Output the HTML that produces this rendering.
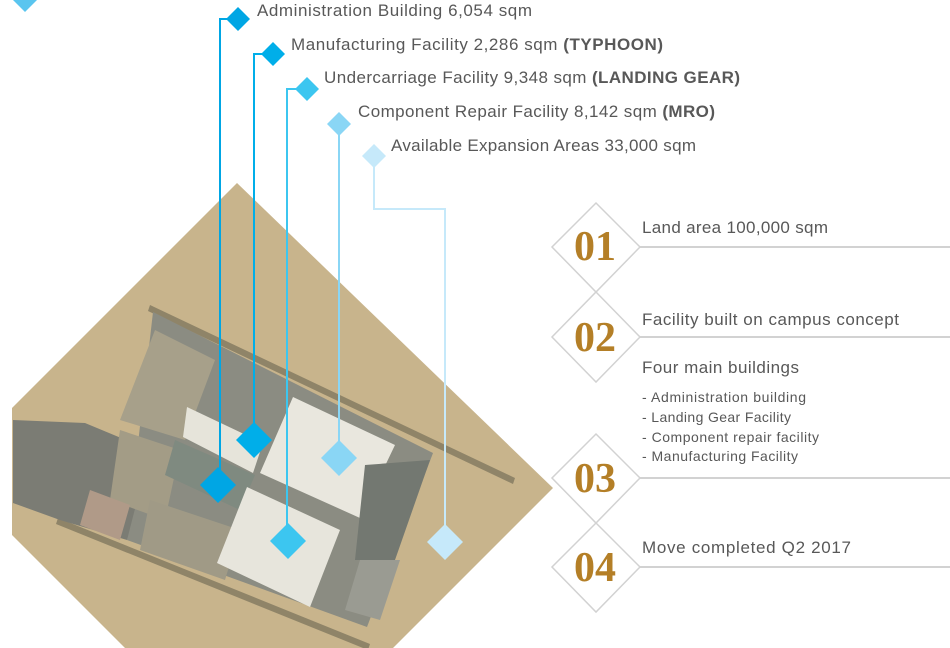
<!DOCTYPE html>
<html><head><meta charset="utf-8"><style>
html,body{margin:0;padding:0;background:#fff;width:950px;height:648px;overflow:hidden}
svg{display:block}
text{font-family:"Liberation Sans",sans-serif;fill:#585858}
.n{font-family:"Liberation Serif",serif;font-weight:bold;font-size:42px;fill:#b47f27}
</style></head><body>
<svg width="950" height="648" viewBox="0 0 950 648">
<defs>
<clipPath id="c"><polygon points="237,183 553,488 393,648 125,648 12,535 12,408"/></clipPath>
</defs>
<g clip-path="url(#c)">
<rect x="0" y="180" width="560" height="470" fill="#c8b48c"/>
<polygon points="150,305 515,478 513,484 148,311" fill="#8f8468"/>
<polygon points="58,518 370,644 368,650 56,524" fill="#8f8468"/>
<polygon points="153,312 433,453 367,627 127,540" fill="#8b8c82"/>
<polygon points="13,420 85,423 150,450 127,540 60,520 13,503" fill="#7b7c74"/>
<polygon points="155,330 215,360 185,440 120,420" fill="#a7a08a"/>
<polygon points="120,430 180,450 165,520 110,500" fill="#a39c86"/>
<polygon points="150,500 240,530 225,580 140,550" fill="#a09a86"/>
<polygon points="90,490 130,505 120,540 80,525" fill="#b09a88"/>
<polygon points="187,407 263,443 253,473 183,437" fill="#e6e4da"/>
<polygon points="175,440 255,475 240,510 165,475" fill="#7f8a80"/>
<polygon points="293,397 395,445 360,518 260,473" fill="#e9e7de"/>
<polygon points="247,487 340,530 310,607 217,563" fill="#e7e5dc"/>
<polygon points="365,465 430,460 395,560 355,560" fill="#737871"/>
<polygon points="360,560 400,560 380,620 345,610" fill="#9a9b92"/>
</g>
<polygon points="25,-12 37,0 25,12 13,0" fill="#5ac5ef"/>
<g fill="none" stroke-width="2">
<polyline points="238,19 220,19 220,485" stroke="#00a6e4"/>
<polyline points="273,54 254,54 254,440" stroke="#00aee9"/>
<polyline points="307,89 287,89 287,541" stroke="#3cc6f0"/>
<polyline points="339,124 339,458" stroke="#8ad6f5"/>
<polyline points="374,156 374,209 445,209 445,542" stroke="#c6e9fa"/>
</g>
<polygon points="238,7 250,19 238,31 226,19" fill="#00a6e4"/>
<polygon points="273,42 285,54 273,66 261,54" fill="#00aee9"/>
<polygon points="307,77 319,89 307,101 295,89" fill="#3cc6f0"/>
<polygon points="339,112 351,124 339,136 327,124" fill="#8ad6f5"/>
<polygon points="374,144 386,156 374,168 362,156" fill="#c6e9fa"/>
<polygon points="218,467 236,485 218,503 200,485" fill="#00a6e4"/>
<polygon points="254,422 272,440 254,458 236,440" fill="#00aee9"/>
<polygon points="288,523 306,541 288,559 270,541" fill="#3cc6f0"/>
<polygon points="339,440 357,458 339,476 321,458" fill="#8ad6f5"/>
<polygon points="445,524 463,542 445,560 427,542" fill="#c6e9fa"/>
<g font-size="17">
<text x="257" y="16" textLength="275">Administration Building 6,054 sqm</text>
<text x="291" y="50" textLength="372">Manufacturing Facility 2,286 sqm <tspan font-weight="bold">(TYPHOON)</tspan></text>
<text x="324" y="83" textLength="416">Undercarriage Facility 9,348 sqm <tspan font-weight="bold">(LANDING GEAR)</tspan></text>
<text x="358" y="117" textLength="357">Component Repair Facility 8,142 sqm <tspan font-weight="bold">(MRO)</tspan></text>
<text x="391" y="151" textLength="305">Available Expansion Areas 33,000 sqm</text>
</g>
<g fill="#fff" stroke="#d2d2d2" stroke-width="1.5">
<polygon points="596,203 640,247 596,292 552,247"/>
<polygon points="596,292 640,337 596,382 552,337"/>
<polygon points="596,434 640,478 596,523 552,478"/>
<polygon points="596,523 640,567 596,612 552,567"/>
</g>
<g stroke="#d2d2d2" stroke-width="2">
<line x1="640" y1="247" x2="950" y2="247"/>
<line x1="640" y1="337" x2="950" y2="337"/>
<line x1="640" y1="478" x2="950" y2="478"/>
<line x1="640" y1="567" x2="950" y2="567"/>
</g>
<text class="n" x="574" y="260">01</text>
<text class="n" x="574" y="351">02</text>
<text class="n" x="574" y="492">03</text>
<text class="n" x="574" y="581">04</text>
<g font-size="17">
<text x="642" y="233" textLength="186">Land area 100,000 sqm</text>
<text x="642" y="325" textLength="257">Facility built on campus concept</text>
<text x="642" y="373" textLength="157">Four main buildings</text>
<text x="642" y="553" textLength="209">Move completed Q2 2017</text>
</g>
<g font-size="14">
<text x="642" y="402" textLength="164">- Administration building</text>
<text x="642" y="422" textLength="149">- Landing Gear Facility</text>
<text x="642" y="442" textLength="177">- Component repair facility</text>
<text x="642" y="461" textLength="156">- Manufacturing Facility</text>
</g>
</svg>
</body></html>
